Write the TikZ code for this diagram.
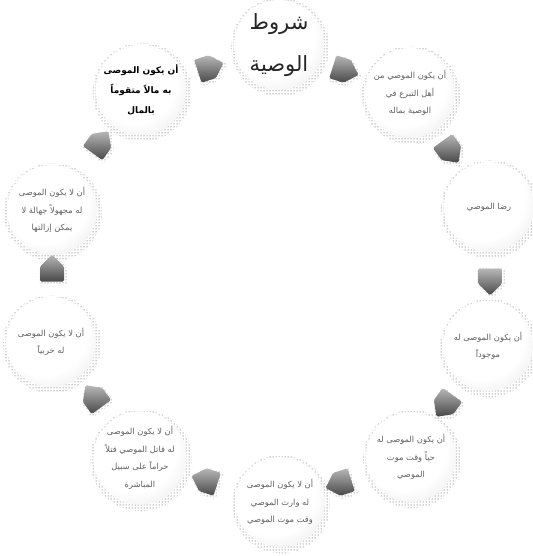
\documentclass[tikz,border=0pt]{standalone}
\usepackage{fontspec}
\TeXXeTstate=1
\newfontfamily\arabicfont[Script=Arabic]{DejaVu Sans}
\usetikzlibrary{shapes.symbols,patterns,shadows}
\pgfdeclareradialshading{sphereshade}{\pgfpoint{-7bp}{9bp}}{color(0bp)=(white); color(24bp)=(white); color(38bp)=(black!9); color(48bp)=(black!26); color(56bp)=(black!42); color(62bp)=(black!50)}
\newcommand{\ar}[1]{{\arabicfont\beginR #1\endR}}
\tikzset{
  halo/.style={drop shadow={shadow xshift=1pt,shadow yshift=-2pt,shadow scale=1.09,pattern=dots,pattern color=black!75,fill opacity=1}},
  ball/.style={circle, minimum size=90pt, inner sep=0pt, shading=sphereshade, align=center,
    text=black!62, font=\fontsize{8.3}{17.5}\selectfont, halo},
  titleball/.style={ball, text=black!85, font=\fontsize{21}{42}\selectfont},
  darkball/.style={ball, text=black, font=\fontsize{9}{20}\selectfont\bfseries},
  flow/.style={signal, signal to=east, signal pointer angle=90, minimum width=27pt, minimum height=24pt,
    inner sep=0pt, rounded corners=1.5pt,
    shading=axis, top color=black!28, bottom color=black!72,
    drop shadow={shadow xshift=1pt,shadow yshift=-1.5pt,shadow scale=1.15,pattern=dots,pattern color=black!70,fill opacity=1}}
}
\begin{document}
\begin{tikzpicture}[x=1pt,y=-1pt]
\useasboundingbox (0,0) rectangle (532,556);
\node[titleball] (c0) at (279,45) {\ar{شروط}\\\ar{الوصية}};
\node[ball] (c1) at (410,93) {\ar{أن يكون الموصي من}\\\ar{أهل التبرع في}\\\ar{الوصية بماله}};
\node[ball] (c2) at (489,207) {\ar{رضا الموصي}};
\node[ball] (c3) at (488,346) {\ar{أن يكون الموصى له}\\\ar{موجوداً}};
\node[ball] (c4) at (411,457) {\ar{أن يكون الموصى له}\\\ar{حياً وقت موت}\\\ar{الموصي}};
\node[ball] (c5) at (280,502) {\ar{أن لا يكون الموصى}\\\ar{له وارث الموصي}\\\ar{وقت موت الموصي}};
\node[ball] (c6) at (140,458) {\ar{أن لا يكون الموصى}\\\ar{له قاتل الموصي قتلاً}\\\ar{حراماً على سبيل}\\\ar{المباشرة}};
\node[ball] (c7) at (51,342) {\ar{أن لا يكون الموصى}\\\ar{له حربياً}};
\node[ball] (c8) at (52,210) {\ar{أن لا يكون الموصى}\\\ar{له مجهولاً جهالة لا}\\\ar{يمكن إزالتها}};
\node[darkball] (c9) at (141,90) {\ar{أن يكون الموصى}\\\ar{به مالاً متقوماً}\\\ar{بالمال}};
\node[flow, rotate=18] (a0) at (205,69) {};
\node[flow, rotate=-18] (a1) at (340,69) {};
\node[flow, rotate=-54] (a2) at (447,147) {};
\node[flow, rotate=-90] (a3) at (490,276) {};
\node[flow, rotate=-126] (a4) at (448,401) {};
\node[flow, rotate=-162] (a5) at (344,482) {};
\node[flow, rotate=162] (a6) at (210,482) {};
\node[flow, rotate=126] (a7) at (97,401) {};
\node[flow, rotate=90] (a8) at (52,274) {};
\node[flow, rotate=54] (a9) at (97,147) {};
\end{tikzpicture}
\end{document}
